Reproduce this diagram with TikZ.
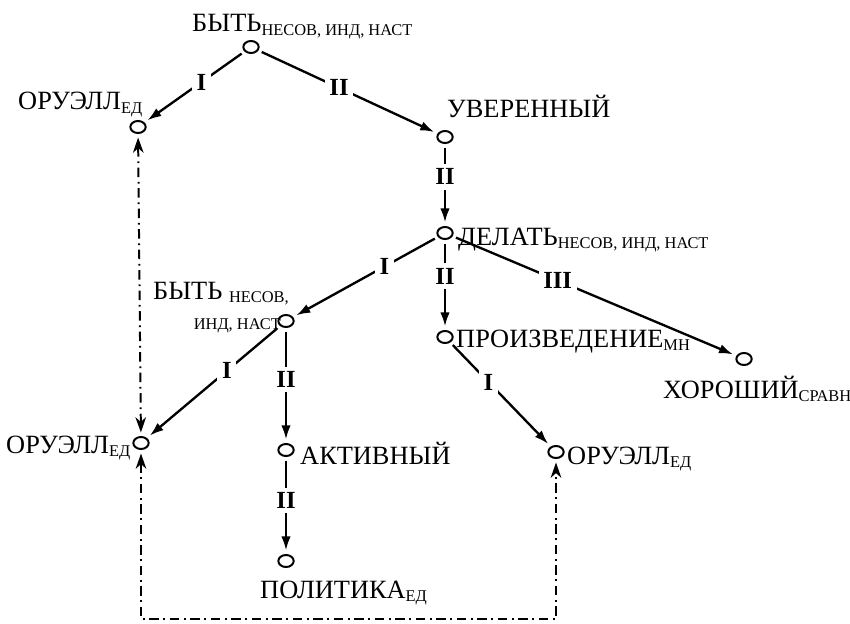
\documentclass[tikz,border=0pt]{standalone}
\usepackage{fontspec}
\setmainfont{Liberation Serif}
\usetikzlibrary{arrows.meta}
\usetikzlibrary{shapes.geometric}
\newcommand{\gram}[1]{\raisebox{-0.3ex}{\fontsize{14}{14}\selectfont #1}}

\tikzset{
  vert/.style={draw,ellipse,minimum width=0.46cm,minimum height=0.36cm,inner sep=0pt,line width=1.7pt},
  word/.style={anchor=base west,inner sep=0pt,font=\fontsize{22.5}{26}\selectfont},
  rel/.style={line width=2pt,-{Latex[length=12pt,width=8pt]},shorten <=3pt,shorten >=3pt},
  num/.style={fill=white,inner sep=4pt,font=\bfseries\fontsize{21}{21}\selectfont},
  coref/.style={line width=1.7pt,dash pattern=on 8pt off 4pt on 1.5pt off 4pt,
    {Stealth[length=13pt,width=9pt,inset=4pt]}-{Stealth[length=13pt,width=9pt,inset=4pt]},
    shorten <=3pt,shorten >=3pt}
}

\begin{document}
\begin{tikzpicture}[x=0.03cm,y=-0.03cm]
    \useasboundingbox (0,0) rectangle (850,623);

    % vertices
    \node[vert] (root) at (251,47) {};
    \node[vert] (oru1) at (138,127) {};
    \node[vert] (uver) at (445,137) {};
    \node[vert] (delat) at (445,233) {};
    \node[vert] (byt2) at (286,321) {};
    \node[vert] (proizv) at (445,337) {};
    \node[vert] (khor) at (744,359) {};
    \node[vert] (oru2) at (141,443) {};
    \node[vert] (aktiv) at (286,450) {};
    \node[vert] (oru3) at (556,452) {};
    \node[vert] (polit) at (286,561) {};

    % words
    \node[word] (rootT) at (192,32) {БЫТЬ\gram{НЕСОВ, ИНД, НАСТ}};
    \node[word] (oru1T) at (18,110) {ОРУЭЛЛ\gram{ЕД}};
    \node[word] (uverT) at (447,118) {УВЕРЕННЫЙ};
    \node[word] (delatT) at (458,245) {ДЕЛАТЬ\gram{НЕСОВ, ИНД, НАСТ}};
    \node[word,anchor=base east] (byt2T) at (289,299) {БЫТЬ \gram{НЕСОВ,}};
    \node[word,anchor=base east] (byt2T2) at (281,326) {\gram{ИНД, НАСТ}};
    \node[word] (proizvT) at (456,347) {ПРОИЗВЕДЕНИЕ\gram{МН}};
    \node[word] (khorT) at (663,398) {ХОРОШИЙ\gram{СРАВН}};
    \node[word] (oru2T) at (6,453) {ОРУЭЛЛ\gram{ЕД}};
    \node[word] (aktivT) at (300,464) {АКТИВНЫЙ};
    \node[word] (oru3T) at (567,464) {ОРУЭЛЛ\gram{ЕД}};
    \node[word] (politT) at (260,598) {ПОЛИТИКА\gram{ЕД}};

    % dependencies
    \draw[rel] (root) -- node[num,pos=0.43] {I} (oru1);
    \draw[rel] (root) -- node[num,pos=0.45] {II} (uver);
    \draw[rel] (uver) -- node[num,pos=0.4] {II} (delat);
    \draw[rel] (delat) -- node[num,pos=0.37] {I} (byt2);
    \draw[rel] (delat) -- node[num,pos=0.4] {II} (proizv);
    \draw[rel] (delat) -- node[num,pos=0.37] {III} (khor);
    \draw[rel] (byt2) -- node[num,pos=0.4] {I} (oru2);
    \draw[rel] (byt2) -- node[num,pos=0.45] {II} (aktiv);
    \draw[rel] (aktiv) -- node[num,pos=0.45] {II} (polit);
    \draw[rel] (proizv) -- node[num,pos=0.38] {I} (oru3);

    % coreference
    \coordinate (base) at (0,619);
    \draw[coref] (oru1) -- (oru2);
    \draw[coref] (oru2) -- (oru2 |- base) -- (oru3 |- base) -- (oru3);
\end{tikzpicture}
\end{document}
